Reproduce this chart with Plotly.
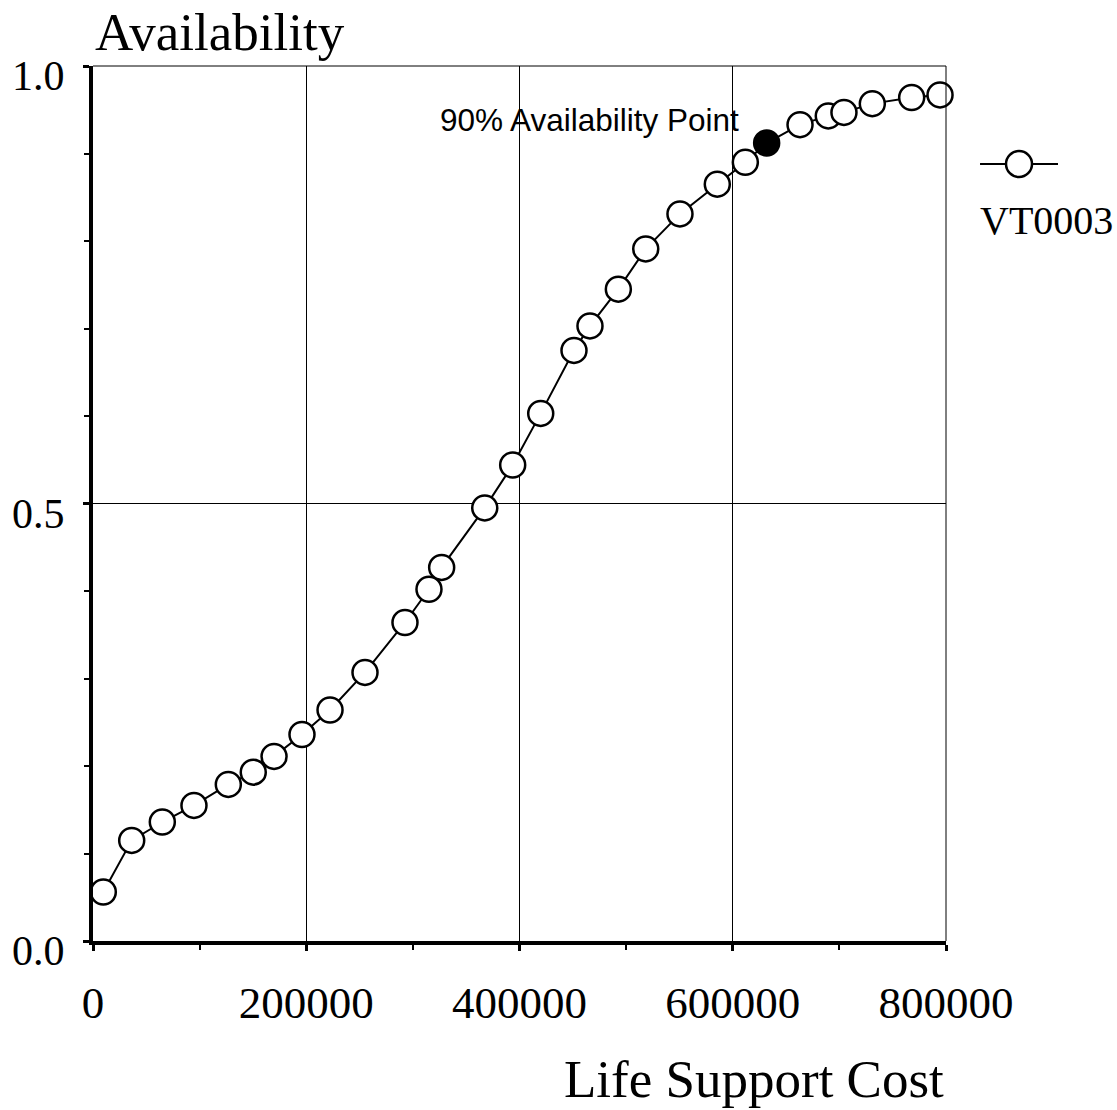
import plotly.graph_objects as go

# ---- data ----
life_support_cost = [9660, 36300, 65000, 94700, 126900, 150300, 169800, 196000, 222300,
                     255100, 292600, 315100, 327000, 367400, 393600, 419900, 451100, 466100,
                     492700, 518400, 550500, 585500, 611800, 631800, 663100, 689600, 704300,
                     730900, 767800, 794400]
availability = [0.056, 0.115, 0.136, 0.155, 0.179, 0.193, 0.211, 0.236, 0.264,
                0.307, 0.364, 0.402, 0.427, 0.495, 0.544, 0.603, 0.675, 0.703,
                0.745, 0.791, 0.831, 0.865, 0.890, 0.912, 0.933, 0.943, 0.947,
                0.957, 0.964, 0.967]
highlight_index = 23  # the 90% availability point (filled)
series_name = "VT0003"

x_tickvals = [0, 200000, 400000, 600000, 800000]
x_ticktext = ["0", "200000", "400000", "600000", "800000"]
y_tickvals = [0.0, 0.5, 1.0]
y_ticktext = ["0.0", "0.5", "1.0"]

x_title = "Life Support Cost"
y_title = "Availability"
point_label = "90% Availability Point"

SERIF = "Liberation Serif, Times New Roman, serif"
SANS = "Liberation Sans, Arial, sans-serif"

marker_colors = ["black" if i == highlight_index else "white" for i in range(len(availability))]

fig = go.Figure()
fig.add_trace(go.Scatter(
    x=life_support_cost, y=availability, mode="lines+markers", name=series_name,
    line=dict(color="black", width=2),
    marker=dict(size=25, color=marker_colors, line=dict(color="black", width=2.5)),
    showlegend=False, cliponaxis=False,
))

# y tick labels as text placed beside the ticks (sit slightly below the tick, as in the reference)
y_label_annotations = [
    dict(text=t, xref="paper", yref="y", x=0, y=v, xanchor="right", yanchor="middle",
         xshift=-26, yshift=-10, showarrow=False,
         font=dict(family=SERIF, size=42, color="black"))
    for v, t in zip(y_tickvals, y_ticktext)
]

fig.update_layout(
    template="none",
    width=1117, height=1110,
    margin=dict(l=93, r=171, t=66, b=169, autoexpand=False),
    paper_bgcolor="white", plot_bgcolor="white",
    showlegend=False,
    xaxis=dict(
        range=[0, 800000], tickvals=x_tickvals, ticktext=x_ticktext, automargin=False,
        showgrid=True, gridcolor="black", gridwidth=1, zeroline=False,
        showline=True, linecolor="black", linewidth=4,
        ticks="outside", ticklen=6, tickwidth=3, tickcolor="black",
        tickfont=dict(family=SERIF, size=45, color="black"),
        ticklabelstandoff=13,
        minor=dict(dtick=100000, ticks="outside", ticklen=5, tickwidth=1.5, tickcolor="black", showgrid=False),
    ),
    yaxis=dict(
        range=[0, 1], tickvals=y_tickvals, showticklabels=False, automargin=False,
        showgrid=True, gridcolor="black", gridwidth=1, zeroline=False,
        showline=True, linecolor="black", linewidth=4,
        ticks="outside", ticklen=6, tickwidth=3, tickcolor="black",
        minor=dict(dtick=0.1, ticks="outside", ticklen=5, tickwidth=1.5, tickcolor="black", showgrid=False),
    ),
    shapes=[
        # thin frame on top / right
        dict(type="line", xref="paper", yref="paper", x0=0, x1=1, y0=1, y1=1, line=dict(color="black", width=1)),
        dict(type="line", xref="paper", yref="paper", x0=1, x1=1, y0=0, y1=1, line=dict(color="black", width=1)),
        # legend symbol
        dict(type="line", xref="paper", yref="paper", x0=1.0399, x1=1.1313, y0=0.888, y1=0.888,
             line=dict(color="black", width=2)),
        dict(type="circle", xref="paper", yref="paper", xsizemode="pixel", ysizemode="pixel",
             xanchor=1.0856, yanchor=0.888, x0=-13, x1=13, y0=-13, y1=13,
             fillcolor="white", line=dict(color="black", width=2.5)),
    ],
    annotations=[
        dict(text=y_title, xref="paper", yref="paper", x=0.0, y=1.039, xanchor="left", yanchor="middle",
             showarrow=False, font=dict(family=SERIF, size=53, color="black")),
        dict(text=x_title, xref="paper", yref="paper", x=1.0, y=-0.1577, xanchor="right", yanchor="middle",
             showarrow=False, font=dict(family=SERIF, size=53, color="black")),
        dict(text=point_label, xref="x", yref="y", x=607500, y=0.938, xanchor="right", yanchor="middle",
             showarrow=False, font=dict(family=SANS, size=31.5, color="black")),
        dict(text=series_name, xref="paper", yref="paper", x=1.0375, y=0.824, xanchor="left", yanchor="middle",
             showarrow=False, font=dict(family=SERIF, size=40, color="black")),
    ] + y_label_annotations,
)

fig.write_html("out.html", config={"displayModeBar": False},
               post_script="document.body.style.margin='0';")
